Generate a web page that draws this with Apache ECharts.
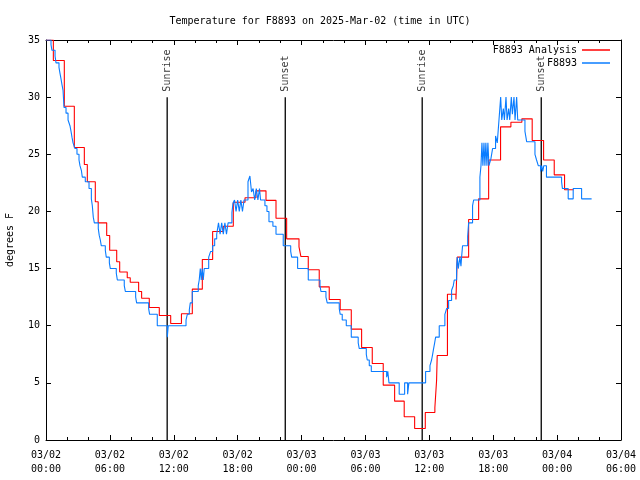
<!DOCTYPE html>
<html>
<head>
<meta charset="utf-8">
<script src="https://cdn.jsdelivr.net/npm/echarts@6/dist/echarts.min.js"></script>
<style>
html,body{margin:0;padding:0;background:#fff;}
#chart{width:640px;height:480px;}
</style>
</head>
<body>
<div id="chart"></div>
<script>
// Hours since 2025-03-02 00:00 UTC
const xTickLabels = ['03/02\n00:00','03/02\n06:00','03/02\n12:00','03/02\n18:00','03/03\n00:00','03/03\n06:00','03/03\n12:00','03/03\n18:00','03/04\n00:00','03/04\n06:00'];

const analysisHours = [0,0.69,1.72,2.66,3.6,3.88,4.63,4.9,5.7,5.98,6.64,6.92,7.63,7.91,8.7,8.98,9.7,10.64,11.71,12.72,13.74,14.68,15.65,16.65,17.59,18.69,19.72,20.66,21.6,22.6,23.76,23.94,24.63,25.66,26.6,27.63,28.67,29.64,30.64,31.67,32.74,33.64,34.62,35.62,36.52,36.68,36.74,37.7,38.5,38.62,39.69,40.63,41.57,42.69,43.66,44.69,45.66,46.73,47.73,48.7,49.55];
const analysisTemps = [35,33.2,29.2,25.6,24.1,22.6,20.85,19.0,17.9,16.6,15.6,14.7,14.2,13.8,13.0,12.4,11.6,10.9,10.2,11.05,13.2,15.8,18.25,18.7,20.8,21.2,21.8,20.97,19.4,17.6,16.9,16.05,14.9,13.4,12.3,11.4,9.7,8.1,6.7,4.8,3.4,2.04,1.0,2.4,2.85,5.2,7.4,12.75,12.3,16.0,19.3,21.1,24.5,27.4,27.8,28.1,26.2,24.5,23.2,21.9,21.9];

const obsHours = [0,0.47,0.56,0.85,0.94,1.22,1.31,1.41,1.5,1.6,1.69,1.88,2.07,2.25,2.35,2.44,2.54,2.72,2.91,3.1,3.19,3.32,3.41,3.69,4.04,4.26,4.35,4.44,4.54,4.91,5.0,5.1,5.19,5.57,5.66,5.95,6.04,6.6,6.7,7.35,7.45,8.42,8.51,9.64,9.73,10.45,11.39,11.48,13.15,13.27,13.46,13.55,13.74,14.3,14.39,14.49,14.58,14.67,14.77,14.86,15.28,15.46,15.65,15.84,16.03,16.2,16.35,16.5,16.65,16.8,16.95,17.1,17.46,17.56,17.7,17.85,18.0,18.15,18.3,18.45,18.6,18.97,19.15,19.3,19.45,19.6,19.75,19.9,20.05,20.15,20.56,20.75,20.94,21.31,21.6,22.28,22.98,23.07,23.63,24.63,25.73,25.82,26.29,26.41,27.54,27.63,27.82,28.2,28.67,29.32,29.42,30.08,30.17,30.36,30.55,31.99,32.1,32.21,33.17,33.68,33.96,34.08,35.65,36.06,36.21,36.31,36.4,36.5,36.59,36.93,37.46,37.62,37.81,38.09,38.25,38.34,38.56,38.62,38.72,38.87,38.97,39.03,39.12,39.6,39.69,40.06,40.16,40.75,40.85,40.94,41.03,41.13,41.22,41.31,41.41,41.5,41.6,41.78,41.94,42.22,42.38,42.54,42.7,42.8,42.95,43.05,43.2,43.3,43.45,43.55,43.7,43.8,43.95,44.05,44.2,44.3,44.98,45.14,45.92,46.07,46.23,46.45,46.55,46.65,46.75,47.0,48.42,48.5,49.04,49.51,50.3,51.24];
const obsTemps = [35,34.6,34.1,33.6,33.0,32.6,32.1,31.6,31.1,30.6,29.1,28.6,28.0,27.5,27.0,26.5,26.0,25.5,25.0,24.5,24.0,23.6,23.0,22.6,22.0,21.1,20.5,19.5,19.0,18.5,17.9,17.5,17.0,16.6,16.0,15.5,15.0,14.6,14.0,13.5,13.0,12.5,12.0,11.5,11.0,10.0,9.0,10.0,10.5,11.0,11.4,12.0,13.0,13.5,14.0,15.0,14.0,15.0,14.0,15.0,16.0,16.5,17.0,17.6,18.0,19.0,18.0,19.0,18.0,19.0,18.0,19.0,19.9,20.7,21.0,20.0,21.0,20.0,21.0,20.0,21.0,22.6,23.1,21.7,22.0,21.0,22.0,21.0,22.0,21.0,20.5,20.0,19.1,18.7,18.0,17.0,16.5,16.0,15.0,14.0,13.5,13.0,12.5,12.0,11.5,11.0,10.5,10.0,9.0,8.5,8.0,7.5,7.0,6.5,6.0,5.5,6.0,5.0,4.0,5.0,4.0,5.0,6.0,6.5,7.0,7.5,8.0,8.5,9.0,10.0,11.0,11.5,12.2,13.1,13.5,14.0,15.0,16.0,15.0,16.0,15.2,16.0,17.0,17.8,19.0,20.5,21.0,23.0,24.0,26.0,24.0,26.0,24.0,26.0,24.0,26.0,24.0,24.6,25.5,26.6,26.0,28.0,30.0,28.0,29.0,28.0,30.0,28.0,29.0,28.0,30.0,28.5,30.0,28.0,30.0,28.0,27.0,26.1,25.0,24.5,24.0,23.5,24.0,23.5,24.0,23.0,22.6,22.0,21.1,22.0,21.1,21.1];

const eventNames = ['Sunrise','Sunset','Sunrise','Sunset'];
const eventHours = [11.38,22.47,35.33,46.51];
const eventTop = 30;

const FONT = '"DejaVu Sans Mono", "Liberation Mono", monospace';
const chart = echarts.init(document.getElementById('chart'), null, {renderer:'canvas'});

const zip = (a,b) => a.map((v,i)=>[v,b[i]]);

const eventSeries = eventNames.map((name,i)=>({
  type:'line',
  name: 'ev' + i,
  data:[[eventHours[i],0],[eventHours[i],eventTop]],
  showSymbol:false, symbol:'none',
  lineStyle:{color:'#000', width:1.3},
  silent:true, z:1
}));

const eventLabels = {
  type:'scatter', name:'evlabels',
  data: eventNames.map((name,i)=>({value:[eventHours[i],eventTop], name:name})),
  symbolSize:1, itemStyle:{color:'rgba(0,0,0,0)'},
  label:{show:true, formatter:(p)=>p.name, position:'top', distance:5, rotate:90,
    align:'left', verticalAlign:'middle', color:'#000', fontFamily:FONT, fontSize:10},
  silent:true, z:1
};

const axisCommon = {
  type:'value', min:0, max:54, interval:6,
  axisLine:{show:true, onZero:false, lineStyle:{color:'#000', width:1}},
  axisTick:{show:true, inside:true, length:5, lineStyle:{color:'#000'}},
  minorTick:{show:true, splitNumber:3, length:3, lineStyle:{color:'#000'}},
  splitLine:{show:false}
};
const yCommon = {
  type:'value', min:0, max:35, interval:5,
  axisLine:{show:true, onZero:false, lineStyle:{color:'#000', width:1}},
  axisTick:{show:true, inside:true, length:5, lineStyle:{color:'#000'}},
  splitLine:{show:false}
};

chart.setOption({
  animation:false,
  backgroundColor:'#fff',
  title:{text:'Temperature for F8893 on 2025-Mar-02 (time in UTC)', left:'center', top:11,
    textStyle:{fontFamily:FONT, fontSize:10, fontWeight:'normal', color:'#000'}},
  legend:[
    {data:['F8893 Analysis'], right:25, top:40, align:'right', icon:'rect', itemWidth:28, itemHeight:1.5,
     textStyle:{fontFamily:FONT, fontSize:10, color:'#000'}, selectedMode:false},
    {data:['F8893'], right:25, top:53, align:'right', icon:'rect', itemWidth:28, itemHeight:1.5,
     textStyle:{fontFamily:FONT, fontSize:10, color:'#000'}, selectedMode:false}
  ],
  grid:{left:46, right:19, top:40, bottom:40, containLabel:false, outerBoundsMode:'none'},
  xAxis:[
    Object.assign({}, axisCommon, {position:'bottom',
      axisLabel:{show:true, margin:8, lineHeight:14, fontFamily:FONT, fontSize:10, color:'#000',
        formatter:(v)=>xTickLabels[Math.round(v/6)]}}),
    Object.assign({}, axisCommon, {position:'top', axisLabel:{show:false}})
  ],
  yAxis:[
    Object.assign({}, yCommon, {position:'left', name:'degrees F', nameLocation:'middle', nameGap:31,
      nameTextStyle:{fontFamily:FONT, fontSize:10, color:'#000'},
      axisLabel:{show:true, margin:6, fontFamily:FONT, fontSize:10, color:'#000'}}),
    Object.assign({}, yCommon, {position:'right', axisLabel:{show:false}})
  ],
  series:[
    ...eventSeries,
    eventLabels,
    {type:'line', name:'F8893 Analysis', step:'end', data:zip(analysisHours, analysisTemps),
     showSymbol:false, symbol:'none', lineStyle:{color:'#ff0000', width:1.1}, itemStyle:{color:'#ff0000'}, z:2},
    {type:'line', name:'F8893', step:'end', data:zip(obsHours, obsTemps),
     showSymbol:false, symbol:'none', lineStyle:{color:'#0a7cff', width:1.1}, itemStyle:{color:'#0a7cff'}, z:3}
  ]
});
</script>
</body>
</html>
